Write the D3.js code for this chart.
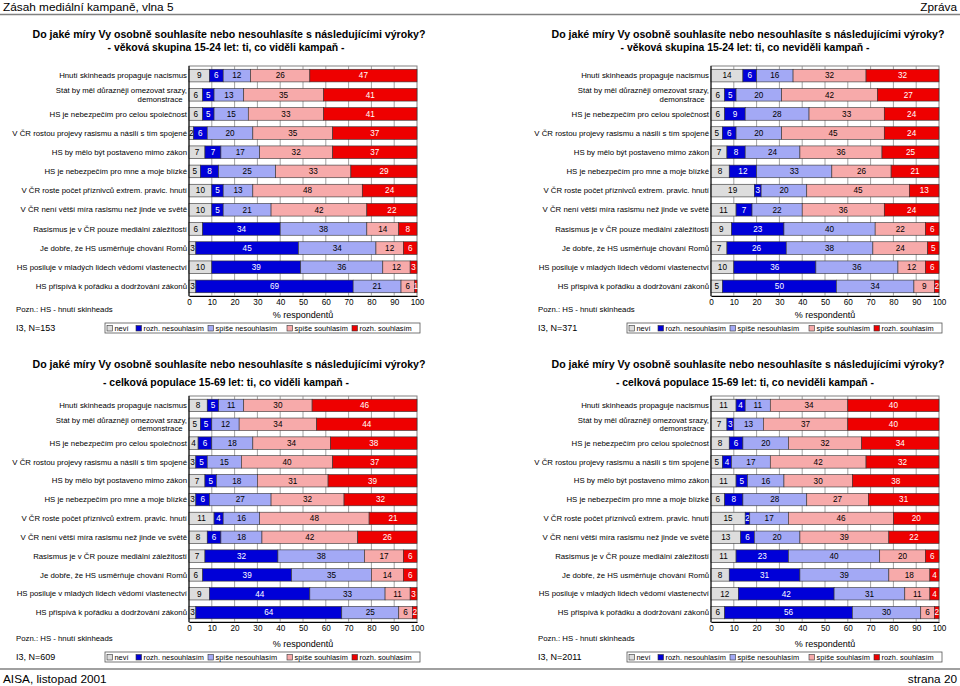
<!DOCTYPE html>
<html><head><meta charset="utf-8">
<script src="https://cdn.jsdelivr.net/npm/d3@7"></script>
<style>
body{margin:0;background:#fff}
text{font-family:"Liberation Sans",Arial,sans-serif;fill:#000}
</style>
</head><body>
<svg id="c" width="960" height="686"></svg>
<script>
// ---------- DATA ----------
const categories = [
  "Hnutí skinheads propaguje nacismus",
  "Stát by měl důrazněji omezovat srazy,\ndemonstrace  ",
  "HS je nebezpečím pro celou společnost",
  "V ČR rostou projevy rasismu a násilí s tím spojené",
  "HS by mělo být postaveno mimo zákon",
  "HS je nebezpečím pro mne a moje blízké",
  "V ČR roste počet příznivců extrem. pravic. hnutí",
  "V ČR není větší míra rasismu než jinde ve světě",
  "Rasismus je v ČR pouze mediální záležitostí",
  "Je dobře, že HS usměrňuje chování Romů",
  "HS posiluje v mladých lidech vědomí vlastenectví",
  "HS přispívá k pořádku a dodržování zákonů"
];
const seriesNames = ["neví","rozh. nesouhlasím","spíše nesouhlasím","spíše souhlasím","rozh. souhlasím"];
const xTicks = [0,10,20,30,40,50,60,70,80,90,100];

// rows: [neví, rozh. nesouhlasím, spíše nesouhlasím, spíše souhlasím, rozh. souhlasím]
const youthSeen = [
  [9,6,12,26,47],[6,5,13,35,41],[6,5,15,33,41],[2,6,20,35,37],[7,7,17,32,37],[5,8,25,33,29],
  [10,5,13,48,24],[10,5,21,42,22],[6,34,38,14,8],[3,45,34,12,6],[10,39,36,12,3],[3,69,21,6,1]
];
const youthNotSeen = [
  [14,6,16,32,32],[6,5,20,42,27],[6,9,28,33,24],[5,6,20,45,24],[7,8,24,36,25],[8,12,33,26,21],
  [19,3,20,45,13],[11,7,22,36,24],[9,23,40,22,6],[7,26,38,24,5],[10,36,36,12,6],[5,50,34,9,2]
];
const totalSeen = [
  [8,5,11,30,46],[5,5,12,34,44],[4,6,18,34,38],[3,5,15,40,37],[7,5,18,31,39],[3,6,27,32,32],
  [11,4,16,48,21],[8,6,18,42,26],[7,32,38,17,6],[6,39,35,14,6],[9,44,33,11,3],[3,64,25,6,2]
];
const totalNotSeen = [
  [11,4,11,34,40],[7,3,13,37,40],[8,6,20,32,34],[5,4,17,42,32],[11,5,16,30,38],[6,8,28,27,31],
  [15,2,17,46,20],[13,6,20,39,22],[11,23,40,20,6],[8,31,39,18,4],[12,42,31,11,4],[6,56,30,6,2]
];
const panelTitle = "Do jaké míry Vy osobně souhlasíte nebo nesouhlasíte s následujícími výroky?";
const subtitles = [
  "- věková skupina 15-24 let: ti, co viděli kampaň -",
  "- věková skupina 15-24 let: ti, co neviděli kampaň -",
  "- celková populace 15-69 let: ti, co viděli kampaň -",
  "- celková populace 15-69 let: ti, co neviděli kampaň -"
];
const sampleNotes = ["I3,  N=153","I3,  N=371","I3,  N=609","I3,  N=2011"];

// ---------- STYLE ----------
const colors = ["#dddddd","#0000d8","#a3a9f5","#f7aaaa","#ee0000"];
const labelColors = ["#000","#fff","#000","#000","#fff"];
const legendOffsets = [2,31,103,182,247];
const FONT = '"Liberation Sans",Arial,sans-serif';

const svg = d3.select("#c");

// header / footer
svg.append("text").attr("x",3).attr("y",11).attr("font-size",11.8).text("Zásah mediální kampaně, vlna 5");
svg.append("text").attr("x",957).attr("y",11).attr("font-size",11.8).attr("text-anchor","end").text("Zpráva");
svg.append("line").attr("x1",0).attr("x2",960).attr("y1",14.5).attr("y2",14.5).attr("stroke","#808080").attr("stroke-width",1.5);
svg.append("line").attr("x1",0).attr("x2",960).attr("y1",669).attr("y2",669).attr("stroke","#808080").attr("stroke-width",1.5);
svg.append("text").attr("x",3).attr("y",683).attr("font-size",11.8).text("AISA, listopad 2001");
svg.append("text").attr("x",957).attr("y",683).attr("font-size",11.8).attr("text-anchor","end").text("strana 20");

const panels = [
  {data:youthSeen,   x0:189, x1:417, y0:66,  y1:296, tx:229, ty:38,  sy:51,  nx:16,  legX:105, legY:323, atY:314, noteY:309, nY:327},
  {data:youthNotSeen,x0:711, x1:939, y0:66,  y1:296, tx:748, ty:38,  sy:51,  nx:538, legX:627, legY:323, atY:314, noteY:309, nY:327},
  {data:totalSeen,   x0:189, x1:417, y0:396, y1:622, tx:229, ty:368, sy:386, nx:16,  legX:105, legY:652, atY:643, noteY:638, nY:656},
  {data:totalNotSeen,x0:711, x1:939, y0:396, y1:622, tx:748, ty:368, sy:386, nx:538, legX:627, legY:652, atY:643, noteY:638, nY:656}
];

panels.forEach((p,pi)=>{
  const g = svg.append("g");
  g.append("text").attr("x",p.tx).attr("y",p.ty).attr("text-anchor","middle")
    .attr("font-size",10.6).attr("font-weight","bold").text(panelTitle);
  g.append("text").attr("x",p.tx-3).attr("y",p.sy).attr("text-anchor","middle")
    .attr("font-size",10.4).attr("font-weight","bold").text(subtitles[pi]);

  const x = d3.scaleLinear().domain([0,100]).range([p.x0,p.x1]);
  const y = d3.scaleBand().domain(categories).range([p.y0,p.y1]).paddingInner(0.34).paddingOuter(0.17);

  // plot frame + grid
  g.append("rect").attr("x",p.x0).attr("y",p.y0).attr("width",p.x1-p.x0).attr("height",p.y1-p.y0)
    .attr("fill","#fff").attr("stroke","#808080").attr("stroke-width",1);
  g.selectAll(".grid").data(xTicks.slice(1,-1)).join("line")
    .attr("x1",d=>x(d)).attr("x2",d=>x(d)).attr("y1",p.y0).attr("y2",p.y1)
    .attr("stroke","#8a8a8a").attr("stroke-width",0.8);

  // stacked bars
  const stacked = d3.stack().keys([0,1,2,3,4])(p.data);
  stacked.forEach((layer,si)=>{
    layer.forEach((seg,ri)=>{
      const cat = categories[ri];
      const w = x(seg[1]) - x(seg[0]);
      g.append("rect").attr("x",x(seg[0])).attr("y",y(cat)).attr("width",w).attr("height",y.bandwidth())
        .attr("fill",colors[si]).attr("stroke","#333").attr("stroke-width",0.6);
      const v = p.data[ri][si];
      g.append("text").attr("x",(x(seg[0])+x(seg[1]))/2).attr("y",y(cat)+y.bandwidth()/2)
        .attr("dy","0.35em").attr("text-anchor","middle").attr("font-size",8.2)
        .style("fill",labelColors[si]).text(v);
    });
  });

  // category labels
  categories.forEach(cat=>{
    const lines = cat.split("\n");
    const t = g.append("text").attr("x",p.x0-2).attr("text-anchor","end").attr("font-size",7.8)
      .style("white-space","pre");
    const cy = y(cat)+y.bandwidth()/2;
    lines.forEach((ln,i)=>{
      t.append("tspan").attr("x",p.x0-2)
        .attr("y",cy + (i-(lines.length-1)/2)*8.6).attr("dy","0.35em").text(ln);
    });
  });

  // left axis line
  g.append("line").attr("x1",p.x0).attr("x2",p.x0).attr("y1",p.y0).attr("y2",p.y1).attr("stroke","#000").attr("stroke-width",1);

  // x axis
  const ax = g.append("g").attr("transform",`translate(0,${p.y1})`)
    .call(d3.axisBottom(x).tickValues(xTicks).tickSize(0).tickPadding(3.5));
  ax.select(".domain").attr("stroke","#000");
  ax.selectAll("text").attr("font-size",8.2).attr("font-family",FONT).attr("fill","#000");
  g.append("text").attr("x",(p.x0+p.x1)/2).attr("y",p.atY+3.5).attr("text-anchor","middle").attr("font-size",9).text("% respondentů");

  // notes
  g.append("text").attr("x",p.nx).attr("y",p.noteY+3).attr("font-size",7.8).text("Pozn.: HS - hnutí skinheads");
  g.append("text").attr("x",p.nx).attr("y",p.nY+3.5).attr("font-size",9).text(sampleNotes[pi]);

  // legend
  const lg = g.append("g");
  lg.append("rect").attr("x",p.legX).attr("y",p.legY).attr("width",315).attr("height",10).attr("fill","#fff")
    .attr("stroke","#555").attr("stroke-width",0.8);
  seriesNames.forEach((s,i)=>{
    const cx = p.legX + legendOffsets[i];
    lg.append("rect").attr("x",cx).attr("y",p.legY+2.5).attr("width",5.5).attr("height",5.5)
      .attr("fill",colors[i]).attr("stroke","#333").attr("stroke-width",0.6);
    lg.append("text").attr("x",cx+7.5).attr("y",p.legY+7.8).attr("font-size",7.4).text(s);
  });
});
</script>
</body></html>
